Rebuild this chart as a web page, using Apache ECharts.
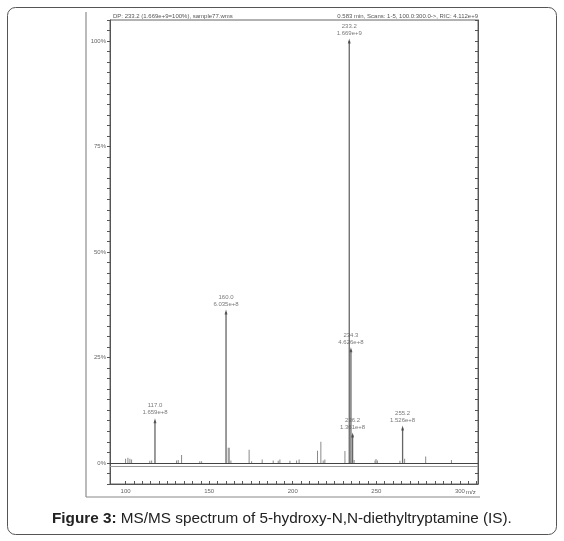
<!DOCTYPE html>
<html>
<head>
<meta charset="utf-8">
<script src="https://cdn.jsdelivr.net/npm/echarts@6/dist/echarts.min.js"></script>
<style>
  html, body { margin: 0; padding: 0; background: #fff; }
  #main { width: 564px; height: 541px; }
</style>
</head>
<body>
<div id="main"></div>
<script>
// minor fragment peaks: m/z position and relative intensity (%)
const minorMz = [100.1, 101.5, 102.7, 103.7, 114.6, 115.7, 130.6, 131.6, 133.6, 144.5, 145.6,
  161.5, 162.1, 163.1, 174.0, 175.5, 181.8, 188.4, 191.4, 192.4, 198.4, 202.4, 203.9,
  214.9, 216.9, 218.3, 219.3, 231.3, 236.8, 249.3, 249.9, 250.7, 264.2, 267.0, 279.6, 295.0]
const minorPct = [1.0, 1.2, 1.0, 0.8, 0.5, 0.6, 0.6, 0.7, 1.9, 0.4, 0.4,
  3.6, 3.6, 0.6, 3.1, 0.4, 0.8, 0.6, 0.5, 0.8, 0.5, 0.6, 0.8,
  2.9, 5.0, 0.6, 0.8, 2.8, 0.7, 0.6, 0.9, 0.6, 0.5, 1.0, 1.5, 0.7]

// annotated peaks
const peakMz = [117.6, 160.1, 233.8, 234.8, 235.8, 265.7]
const peakPct = [10.0, 35.8, 100, 26.8, 6.6, 8.3]
const peakMass = ['117.0', '160.0', '233.2', '234.3', '236.2', '255.2']
const peakAbund = ['1.659e+8', '6.035e+8', '1.669e+9', '4.626e+8', '1.361e+8', '1.526e+8']

const xLabelValues = [100, 150, 200, 250, 300]
const xTickValues = []
for (let v = 100; v <= 310; v += 5) xTickValues.push(v)

const caption = 'MS/MS spectrum of 5-hydroxy-N,N-diethyltryptamine (IS).'
const headLeft = 'DP: 233.2 (1.669e+9=100%), sample77.wms'
const headRight = '0.583 min, Scans: 1-5, 100.0:300.0->, RIC: 4.112e+9'

var myChart = echarts.init(document.getElementById('main'))

const minorData = minorMz.map((m, i) => [m, minorPct[i]])
const peakData = peakMz.map((m, i) => [m, peakPct[i], peakMass[i], peakAbund[i]])

const tinyFont = { fontFamily: 'Liberation Sans', fontSize: 6, color: '#666' }

var option = {
  animation: false,
  backgroundColor: '#fff',
  grid: {
    left: 110,
    right: 86,
    top: 20,
    bottom: 57,
    show: true,
    borderColor: '#666',
    borderWidth: 1
  },
  xAxis: {
    type: 'value',
    min: 90.7,
    max: 310.8,
    axisLine: { onZero: false, lineStyle: { color: '#555' } },
    axisTick: { inside: true, length: 3, customValues: xTickValues, lineStyle: { color: '#555' } },
    axisLabel: { customValues: xLabelValues, ...tinyFont, margin: 4 },
    splitLine: { show: false }
  },
  yAxis: [
    {
      type: 'value',
      min: -5,
      max: 105,
      interval: 2.5,
      axisLine: { show: true, lineStyle: { color: '#555' } },
      axisTick: { show: true, length: 3, lineStyle: { color: '#555' } },
      axisLabel: {
        ...tinyFont,
        margin: 4,
        formatter: v => (v >= 0 && Math.abs(v % 25) < 1e-6 ? v + '%' : '')
      },
      splitLine: { show: false }
    },
    {
      type: 'value',
      position: 'right',
      min: -5,
      max: 105,
      interval: 2.5,
      axisLine: { show: true, lineStyle: { color: '#555' } },
      axisTick: { show: true, inside: true, length: 3, lineStyle: { color: '#555' } },
      axisLabel: { show: false },
      splitLine: { show: false }
    }
  ],
  series: [
    {
      type: 'bar',
      data: minorData,
      barWidth: 1,
      barGap: '-100%',
      itemStyle: { color: '#8a8a8a' },
      markLine: {
        silent: true,
        symbol: 'none',
        label: { show: false },
        data: [
          { yAxis: 0, lineStyle: { color: '#444', width: 1.2, type: 'solid' } },
          { yAxis: -0.7, lineStyle: { color: '#999', width: 1, type: 'solid' } }
        ]
      }
    },
    {
      type: 'bar',
      data: peakData,
      barWidth: 1.3,
      barGap: '-100%',
      itemStyle: { color: '#666' }
    },
    {
      type: 'scatter',
      data: peakData,
      symbol: 'triangle',
      symbolSize: [3, 5],
      itemStyle: { color: '#444' },
      label: {
        show: true,
        position: 'top',
        distance: 2,
        fontFamily: 'Liberation Sans',
        fontSize: 6,
        lineHeight: 7,
        color: '#555',
        formatter: p => p.data[2] + '\n' + p.data[3]
      }
    }
  ],
  graphic: [
    {
      type: 'rect',
      shape: { x: 7.5, y: 7.5, width: 549, height: 527, r: 8 },
      style: { fill: 'none', stroke: '#555', lineWidth: 1 }
    },
    {
      type: 'line',
      shape: { x1: 86, y1: 12, x2: 86, y2: 497 },
      style: { stroke: '#777', lineWidth: 1 }
    },
    {
      type: 'line',
      shape: { x1: 86, y1: 497, x2: 480, y2: 497 },
      style: { stroke: '#888', lineWidth: 1 }
    },
    {
      type: 'text',
      left: 113,
      top: 13,
      style: { text: headLeft, ...tinyFont, fill: '#555' }
    },
    {
      type: 'text',
      right: 86,
      top: 13,
      style: { text: headRight, ...tinyFont, fill: '#555' }
    },
    {
      type: 'text',
      left: 466,
      top: 489,
      style: { text: 'm/z', ...tinyFont, fill: '#555' }
    },
    {
      type: 'text',
      left: 52,
      top: 511,
      style: {
        text: '{b|Figure 3:} ' + caption,
        font: '15.3px "Liberation Sans"',
        fill: '#222',
        rich: {
          b: { font: 'bold 15.3px "Liberation Sans"', fill: '#222' }
        }
      }
    }
  ]
}

option && myChart.setOption(option)
</script>
</body>
</html>
